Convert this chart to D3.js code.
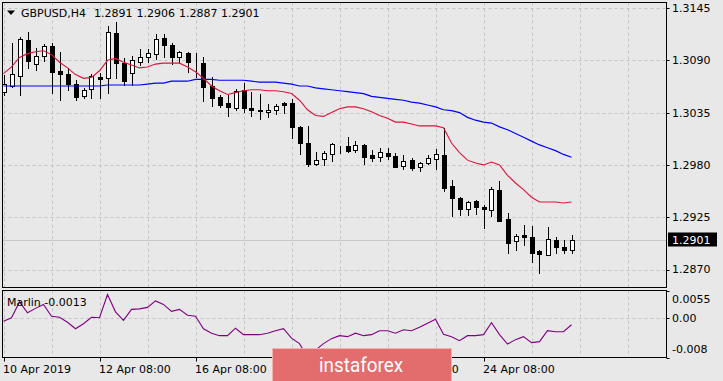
<!DOCTYPE html>
<html><head><meta charset="utf-8">
<script src="https://cdn.jsdelivr.net/npm/d3@7/dist/d3.min.js"></script>
<style>
body{margin:0;background:#e8e8e8;}
svg{display:block;}
text{font-family:"DejaVu Sans",sans-serif;font-size:11px;fill:#000;}
</style>
</head><body>
<svg id="c" width="723" height="381"></svg>
<script>
// ---------- data ----------
const symbol = "GBPUSD,H4";
const indicatorName = "Marlin";
const opens = [1.3057,1.3063,1.3073,1.3111,1.3086,1.3095,1.3105,1.3079,1.3076,1.3065,
1.3052,1.3060,1.3072,1.3071,1.3119,1.3087,1.3077,1.3088,1.3093,1.3097,
1.3113,1.3106,1.3093,1.3098,1.3088,1.3087,1.3063,1.3051,1.3045,1.3040,
1.3059,1.3040,1.3038,1.3036,1.3038,1.3045,1.3045,1.3020,1.3003,1.2981,
1.2986,1.2991,1.3000,1.3000,1.2996,1.3001,1.2990,1.2988,1.2993,1.2989,
1.2979,1.2985,1.2978,1.2982,1.2986,1.2990,1.2958,1.2945,1.2934,1.2942,
1.2936,1.2933,1.2954,1.2923,1.2900,1.2906,1.2904,1.2889,1.2885,1.2901,
1.2894,1.2891];
const highs = [1.3075,1.3108,1.3114,1.3120,1.3103,1.3107,1.3108,1.3099,1.3082,1.3069,
1.3061,1.3076,1.3077,1.3126,1.3130,1.3092,1.3095,1.3102,1.3102,1.3118,
1.3118,1.3108,1.3100,1.3099,1.3098,1.3093,1.3072,1.3054,1.3054,1.3060,
1.3066,1.3057,1.3055,1.3044,1.3044,1.3046,1.3049,1.3021,1.3021,1.2994,
1.2995,1.3003,1.3000,1.3009,1.3005,1.3002,1.2996,1.2998,1.2998,1.2993,
1.2990,1.2987,1.2983,1.2990,1.2997,1.3019,1.2964,1.2946,1.2942,1.2943,
1.2938,1.2957,1.2963,1.2929,1.2907,1.2917,1.2916,1.2891,1.2915,1.2904,
1.2901,1.2906];
const lows = [1.3054,1.3062,1.3054,1.3082,1.3080,1.3089,1.3056,1.3048,1.3059,1.3048,
1.3050,1.3050,1.3050,1.3056,1.3071,1.3064,1.3064,1.3085,1.3088,1.3091,
1.3093,1.3086,1.3088,1.3078,1.3072,1.3047,1.3042,1.3041,1.3031,1.3038,
1.3036,1.3031,1.3028,1.3030,1.3034,1.3035,1.3008,1.2991,1.2979,1.2980,
1.2980,1.2984,1.2993,1.2994,1.2994,1.2981,1.2984,1.2984,1.2986,1.2978,
1.2976,1.2975,1.2974,1.2981,1.2976,1.2953,1.2926,1.2927,1.2927,1.2928,
1.2914,1.2926,1.2921,1.2887,1.2891,1.2896,1.2878,1.2866,1.2885,1.2887,
1.2887,1.2887];
const closes = [1.3065,1.3076,1.3112,1.3089,1.3095,1.3105,1.3078,1.3076,1.3065,1.3051,
1.3059,1.3073,1.3070,1.3120,1.3087,1.3068,1.3090,1.3093,1.3098,1.3112,
1.3106,1.3093,1.3099,1.3088,1.3088,1.3062,1.3050,1.3043,1.3041,1.3058,
1.3040,1.3038,1.3037,1.3038,1.3042,1.3043,1.3020,1.3003,1.2981,1.2985,
1.2993,1.3002,1.3000,1.2995,1.3001,1.2988,1.2987,1.2994,1.2989,1.2978,
1.2984,1.2977,1.2982,1.2987,1.2991,1.2956,1.2945,1.2934,1.2941,1.2936,
1.2934,1.2955,1.2921,1.2898,1.2905,1.2904,1.2887,1.2886,1.2902,1.2894,
1.2891,1.2901];
const maFast = [1.3076,1.3083,1.3093,1.3097,1.3099,1.3100,1.3096,1.3088,1.3082,1.3075,
1.3071,1.3072,1.3079,1.3090,1.3092,1.3088,1.3085,1.3082,1.3083,1.3086,
1.3087,1.3087,1.3087,1.3083,1.3078,1.3071,1.3063,1.3058,1.3054,1.3056,
1.3058,1.3059,1.3059,1.3058,1.3058,1.3057,1.3055,1.3048,1.3038,1.3032,
1.3031,1.3035,1.3039,1.3041,1.3041,1.3039,1.3036,1.3032,1.3029,1.3025,
1.3025,1.3023,1.3021,1.3021,1.3021,1.3019,1.3003,1.2993,1.2985,1.2982,
1.2980,1.2983,1.2980,1.2969,1.2961,1.2954,1.2946,1.2941,1.2941,1.2941,
1.2940,1.2941];
const maSlow = [1.3063,1.3063,1.3063,1.3063,1.3063,1.3063,1.3063,1.3063,1.3063,1.3063,
1.3063,1.3063,1.3063,1.3064,1.3064,1.3064,1.3064,1.3064,1.3065,1.3066,
1.3066,1.3068,1.3068,1.3068,1.3070,1.3070,1.3070,1.3069,1.3069,1.3069,
1.3069,1.3068,1.3067,1.3067,1.3067,1.3066,1.3065,1.3063,1.3063,1.3061,
1.3060,1.3059,1.3058,1.3057,1.3056,1.3055,1.3052,1.3051,1.3050,1.3049,
1.3048,1.3046,1.3045,1.3043,1.3041,1.3038,1.3037,1.3035,1.3030,1.3027,
1.3025,1.3024,1.3020,1.3017,1.3013,1.3009,1.3005,1.3001,1.2998,1.2995,
1.2991,1.2988];
const marlin = [-0.0006,0.0001,0.0033,0.0011,0.0020,0.0028,0.0004,0.0002,-0.0008,-0.0021,
-0.0011,0.0002,0.0001,0.0048,0.0013,-0.0004,0.0018,0.0019,0.0022,0.0035,
0.0028,0.0014,0.0018,0.0006,0.0004,-0.0021,-0.0030,-0.0035,-0.0035,-0.0020,
-0.0033,-0.0033,-0.0033,-0.0030,-0.0025,-0.0021,-0.0040,-0.0051,-0.0078,-0.0064,
-0.0051,-0.0041,-0.0035,-0.0037,-0.0030,-0.0035,-0.0033,-0.0025,-0.0025,-0.0030,
-0.0023,-0.0025,-0.0018,-0.0010,-0.0002,-0.0032,-0.0037,-0.0045,-0.0035,-0.0035,
-0.0033,-0.0009,-0.0033,-0.0052,-0.0043,-0.0037,-0.0049,-0.0047,-0.0025,-0.0027,
-0.0027,-0.0013];
const priceTicks = [1.3145,1.3090,1.3035,1.2980,1.2925,1.2870];
const indTicks = [0.0055,0,-0.008];
const indTickLabels = ["0.0055","0.00","-0.008"];
const timeTickIdx = [0,12,24,36,48,60];
const timeLabels = ["10 Apr 2019","12 Apr 08:00","16 Apr 08:00","18 Apr 08:00","22 Apr 08:00","24 Apr 08:00"];

// ---------- layout ----------
const L = 2.5, R = 666.5, mTop = 2.5, mBot = 287.5, iTop = 290.5, iBot = 357.5;
const svg = d3.select("#c");
const n = closes.length;
const x = d3.scaleLinear().domain([0, 71]).range([3.5, 571.5]);
const y = d3.scaleLinear().domain([1.2870, 1.3145]).range([269.5, 8]);
const yi = d3.scaleLinear().domain([-0.0078, 0.0055]).range([357, 291]);
const f4 = d3.formatLocale({decimal:".", thousands:",", grouping:[3], currency:["",""], minus:"-"}).format(".4f");
const snap = v => Math.round(v) + 0.5;

svg.append("rect").attr("width",723).attr("height",381).attr("fill","#e8e8e8");

const defs = svg.append("defs");
defs.append("clipPath").attr("id","cm").append("rect").attr("x",L).attr("y",mTop).attr("width",R-L).attr("height",mBot-mTop);
defs.append("clipPath").attr("id","ci").append("rect").attr("x",L).attr("y",iTop).attr("width",R-L).attr("height",iBot-iTop);

const gridIdx = d3.range(0, 84, 6).filter(i => x(i) < R);
const gm = svg.append("g").attr("clip-path","url(#cm)");
const gi = svg.append("g").attr("clip-path","url(#ci)");

// grid
[ [gm, mTop, mBot], [gi, iTop, iBot] ].forEach(([g, t, b]) => {
  g.selectAll(null).data(gridIdx).enter().append("line")
    .attr("x1", d => snap(x(d))).attr("x2", d => snap(x(d)))
    .attr("y1", t).attr("y2", b)
    .attr("stroke","#c4c4c4").attr("stroke-dasharray","3,3");
});
gm.selectAll(null).data(priceTicks).enter().append("line")
  .attr("x1",L).attr("x2",R).attr("y1",d=>snap(y(d))).attr("y2",d=>snap(y(d)))
  .attr("stroke","#c4c4c4").attr("stroke-dasharray","3,3");
gi.append("line").attr("x1",L).attr("x2",R).attr("y1",snap(yi(0))).attr("y2",snap(yi(0)))
  .attr("stroke","#c4c4c4").attr("stroke-dasharray","3,3");

// current price line
const last = closes[n-1];
gm.append("line").attr("x1",L).attr("x2",R).attr("y1",snap(y(last))).attr("y2",snap(y(last)))
  .attr("stroke","#c8c8c8");

// candles
const idx = d3.range(n);
const cg = gm.append("g").attr("shape-rendering","crispEdges");
cg.selectAll(null).data(idx).enter().append("line")
  .attr("x1", i => snap(x(i))).attr("x2", i => snap(x(i)))
  .attr("y1", i => Math.round(y(highs[i]))).attr("y2", i => Math.round(y(lows[i]))+1)
  .attr("stroke","#000");
cg.selectAll(null).data(idx).enter().append("rect")
  .attr("x", i => snap(x(i)) - 2)
  .attr("width", 4)
  .attr("y", i => snap(y(Math.max(opens[i],closes[i]))))
  .attr("height", i => Math.max(0, Math.round(y(Math.min(opens[i],closes[i]))) - Math.round(y(Math.max(opens[i],closes[i])))))
  .attr("fill", i => closes[i] >= opens[i] ? "#fff" : "#000")
  .attr("stroke","#000");

// moving averages
const line = arr => d3.line().x((d,i)=>x(i)).y(d=>y(d))(arr);
gm.append("path").attr("d", line(maSlow)).attr("fill","none").attr("stroke","#0000ff").attr("stroke-width",1.2);
gm.append("path").attr("d", line(maFast)).attr("fill","none").attr("stroke","#dc143c").attr("stroke-width",1.1);

// indicator
gi.append("path").attr("d", d3.line().x((d,i)=>x(i)).y(d=>yi(d))(marlin))
  .attr("fill","none").attr("stroke","#800080").attr("stroke-width",1.1);

// panel borders
svg.append("rect").attr("x",L).attr("y",mTop).attr("width",R-L).attr("height",mBot-mTop).attr("fill","none").attr("stroke","#000");
svg.append("rect").attr("x",L).attr("y",iTop).attr("width",R-L).attr("height",iBot-iTop).attr("fill","none").attr("stroke","#000");

// price axis
svg.selectAll(null).data(priceTicks).enter().append("line")
  .attr("x1",R).attr("x2",R+3).attr("y1",d=>snap(y(d))).attr("y2",d=>snap(y(d))).attr("stroke","#000");
svg.selectAll(null).data(priceTicks).enter().append("text")
  .attr("x",672).attr("y",d=>y(d)).attr("dy","0.36em").text(d=>f4(d));
// current price label
svg.append("rect").attr("x",668).attr("y",Math.round(y(last))-7.5).attr("width",49).attr("height",14).attr("fill","#000");
svg.append("text").attr("x",672).attr("y",y(last)).attr("dy","0.36em").style("fill","#fff").text(f4(last));

// indicator axis
svg.selectAll(null).data(indTicks).enter().append("line")
  .attr("x1",R).attr("x2",R+3).attr("y1",d=>snap(Math.max(iTop,Math.min(iBot,yi(d))))).attr("y2",d=>snap(Math.max(iTop,Math.min(iBot,yi(d))))).attr("stroke","#000");
svg.selectAll(null).data(indTicks).enter().append("text")
  .attr("x",672).attr("y",d=>Math.max(iTop+8.5,Math.min(iBot-8.5,yi(d)))).attr("dy","0.36em")
  .text((d,i)=>indTickLabels[i]);

// time axis
svg.selectAll(null).data(timeTickIdx).enter().append("line")
  .attr("x1",i=>snap(x(i))).attr("x2",i=>snap(x(i))).attr("y1",iBot).attr("y2",iBot+4).attr("stroke","#000");
svg.selectAll(null).data(timeTickIdx).enter().append("text")
  .attr("x",i=>x(i)-0.5).attr("y",372.5).text((d,k)=>timeLabels[k]);

// header
svg.append("path").attr("d","M7,10.5H15L11,15Z").attr("fill","#000");
const hdr = [symbol, f4(opens[n-1]), f4(highs[n-1]), f4(lows[n-1]), f4(closes[n-1])];
const hx = [21, 94, 136.5, 179, 221];
svg.selectAll(null).data(hdr).enter().append("text").attr("x",(d,i)=>hx[i]).attr("y",17).text(d=>d);
svg.append("text").attr("x",7).attr("y",306).text(indicatorName + " " + f4(marlin[n-1]));

// watermark
svg.append("rect").attr("x",272.5).attr("y",348.5).attr("width",179).attr("height",34)
  .attr("fill","#e36c6c").attr("stroke","#f3b0b0");
svg.append("text").attr("x",361).attr("y",371.5).attr("text-anchor","middle")
  .style("font-family","Roboto, 'Open Sans', sans-serif").style("font-size","21px").style("fill","#fff")
  .attr("textLength",84).attr("lengthAdjust","spacingAndGlyphs").text("instaforex");
</script>
</body></html>
